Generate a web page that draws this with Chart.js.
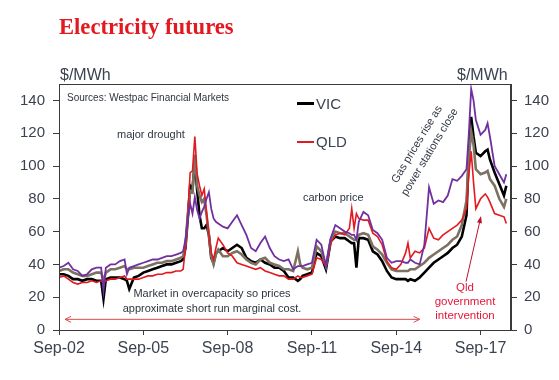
<!DOCTYPE html>
<html>
<head>
<meta charset="utf-8">
<script src="https://cdn.jsdelivr.net/npm/chart.js@4"></script>
<style>
  body { margin: 0; background: #fff; }
  #wrap { position: relative; width: 559px; height: 380px; font-family: 'Liberation Sans', Arial, sans-serif; color: #3b4350; }
  #wrap canvas { position: absolute; left: 0; top: 0; }
  .t { position: absolute; white-space: nowrap; line-height: 1; }
  .key { position: absolute; height: 0; }
</style>
</head>
<body>
<div id="wrap">
  <canvas id="futuresChart" width="559" height="380"></canvas>
  <div class="t" style="left:59px;top:14px;font:bold 22.6px 'Liberation Serif','Times New Roman',serif;color:#e3191f;">Electricity futures</div>
  <div class="t" style="left:60px;top:67px;font-size:16px;">$/MWh</div>
  <div class="t" style="left:457px;top:67px;font-size:16px;">$/MWh</div>
  <div class="t" style="left:67px;top:93px;font-size:10px;color:#2e3440;">Sources: Westpac Financial Markets</div>
  <div class="key" style="left:297px;top:102px;width:17px;border-top:3px solid #000;"></div>
  <div class="t" style="left:316px;top:96px;font-size:15px;">VIC</div>
  <div class="key" style="left:297px;top:141px;width:17px;border-top:2px solid #e3191f;"></div>
  <div class="t" style="left:316px;top:134px;font-size:15px;">QLD</div>
  <div class="t" style="left:117px;top:129px;font-size:11px;color:#2e3440;">major drought</div>
  <div class="t" style="left:303px;top:192px;font-size:11px;color:#2e3440;">carbon price</div>
  <div class="t" style="left:212px;top:288px;font-size:11px;color:#2e3440;transform:translateX(-50%);">Market in overcapacity so prices</div>
  <div class="t" style="left:212px;top:302.5px;font-size:11px;color:#2e3440;transform:translateX(-50%);">approximate short run marginal cost.</div>
  <div class="t" style="left:423px;top:148px;font-size:11px;color:#2e3440;line-height:15px;text-align:center;transform:translate(-50%,-50%) rotate(-59deg);">Gas prices rise as<br>power stations close</div>
  <div class="t" style="left:465px;top:280px;font-size:11.5px;color:#e3173a;line-height:14px;text-align:center;transform:translateX(-50%);">Qld<br>government<br>intervention</div>
</div>
<script>
// months since Sep-02
const months = [
  0, 2, 4, 6, 8, 10, 12, 14, 16, 18,
  19, 20,
  22, 24, 26, 28,
  29, 30,
  32, 34, 36, 38, 40, 42, 44, 46, 48, 50, 52,
  53, 54, 55, 56, 57, 58, 59, 60, 61, 62, 63, 64, 65, 66, 67, 68,
  70, 72, 74, 76, 78, 80, 82, 84, 86, 88, 90, 92, 94, 96, 98, 100,
  102, 103, 104,
  106, 108, 110, 112, 114, 116, 118, 120, 122, 124,
  125, 126, 127, 128,
  130, 132, 134, 136, 138, 140, 142, 144, 146, 148,
  149, 150,
  152, 154, 156, 158, 160, 162, 164, 166, 168, 170, 172, 174,
  175, 176, 177, 178,
  180, 182, 183, 184, 186, 188, 190, 191
];

const saPrices = [
  38, 39, 41, 37, 36, 33, 34, 37, 38, 38,
  24, 38,
  40, 40, 42, 43,
  34, 38,
  39, 40, 41, 42, 43, 43, 44, 45, 45, 46, 47,
  48, 55, 68, 77, 71, 81, 73, 68, 72, 75, 80, 84, 74, 68, 66, 65,
  63, 62, 66, 70, 64, 58, 50, 48, 53, 57, 50, 45, 43, 42, 43, 37,
  39, 39, 39,
  40, 41, 55, 52, 39, 56, 64, 62, 60, 59,
  58, 58, 55, 66,
  72, 70, 61, 59, 55, 44, 41, 42, 42, 41,
  41, 43,
  41, 40, 52, 87, 77, 79, 78, 82, 92, 91, 94, 98,
  120, 147, 140, 128,
  119, 122, 126, 118, 100, 95, 90, 95
];

const nswPrices = [
  36, 37, 37, 35, 34, 33, 33, 34, 35, 35,
  30, 35,
  37, 37, 38, 39,
  37, 37,
  38, 38, 38, 39, 40, 41, 41, 42, 42, 43, 44,
  45, 52, 70, 85, 84, 107, 88, 82, 78, 80, 70, 58, 45, 40, 46, 49,
  45, 45, 47, 48, 46, 43, 41, 40, 43, 44, 41, 40, 39, 37, 37, 36,
  48, 40, 38,
  37, 38, 51, 48, 39, 55, 60, 59, 59, 57,
  56, 55, 55, 58,
  59, 58, 51, 49, 46, 41, 37, 36, 36, 36,
  36, 37,
  37, 39, 41, 44, 46, 48, 50, 52, 55, 57, 64, 79,
  105, 121, 113, 98,
  95, 96, 97, 92, 88, 80, 75, 80
];

const vicPrices = [
  34, 34, 33, 31, 31, 30, 31, 31, 30, 30,
  19, 31,
  32, 32, 32, 31,
  30, 25,
  32, 33, 35, 36, 37, 38, 39, 40, 40, 41, 42,
  43, 50, 68, 88, 86, 103, 85, 70, 62, 62, 64, 58, 44, 41, 47, 48,
  50, 48, 50, 52, 50, 44, 42, 41, 43, 41, 40, 38, 38, 36, 32, 32,
  30, 31, 33,
  34, 35, 47, 45, 37, 54, 57, 56, 56, 54,
  53, 53, 38, 56,
  56, 55, 48, 46, 42, 36, 32, 31, 31, 31,
  30, 31,
  30, 32, 35, 38, 41, 43, 45, 47, 50, 52, 57, 70,
  108, 130, 118, 108,
  106, 109, 110, 104, 96, 89, 82, 88
];

const qldPrices = [
  32, 33, 31, 29, 28, 29, 29, 30, 29, 30,
  29, 30,
  31, 31, 32, 33,
  31, 31,
  31, 31, 32, 33, 33, 34, 34, 35, 35, 36, 36,
  37, 50, 70, 96, 97, 118, 95, 88, 82, 86, 72, 58, 47, 43, 50, 56,
  52, 47, 45, 41, 40, 39, 38, 37, 38, 36, 35, 34, 33, 33, 31, 31,
  33, 32, 32,
  33, 34, 44, 43, 39, 53, 58, 59, 58, 62,
  74, 62, 71, 68,
  67, 67, 59, 57, 52, 42, 38, 37, 40, 47,
  53, 44,
  48, 47, 50, 62, 56, 55, 58, 60, 62, 64, 67, 74,
  95, 109, 90, 74,
  80, 83, 81, 78, 71, 70, 69, 65
];

const xTickStep = 36;
const yTickStep = 20;

function pts(vals) {
  return months.map((m, i) => ({ x: m, y: vals[i] }));
}

function sepLabel(v) {
  const yr = (2 + v / 12) % 100;
  return 'Sep-' + String(yr).padStart(2, '0');
}

const tickCol = '#3b4350';
const axisCol = '#3a3a3a';

// arrows drawn in data space
const notes = {
  id: 'notes',
  afterDatasetsDraw(chart) {
    const { ctx, scales: { x, y } } = chart;
    ctx.save();
    // overcapacity span
    const y0 = y.getPixelForValue(6.5);
    const xa = x.getPixelForValue(2.6);
    const xb = x.getPixelForValue(154);
    ctx.strokeStyle = '#e04a4a';
    ctx.lineWidth = 1;
    ctx.beginPath();
    ctx.moveTo(xa, y0); ctx.lineTo(xb, y0);
    ctx.moveTo(xa + 6, y0 - 3); ctx.lineTo(xa, y0); ctx.lineTo(xa + 6, y0 + 3);
    ctx.moveTo(xb - 6, y0 - 3); ctx.lineTo(xb, y0); ctx.lineTo(xb - 6, y0 + 3);
    ctx.stroke();
    // Qld intervention arrow
    const tx = x.getPixelForValue(173.8), ty = y.getPixelForValue(29.5);
    const hx = x.getPixelForValue(180.2), hy = y.getPixelForValue(69.5);
    const ang = Math.atan2(hy - ty, hx - tx);
    ctx.strokeStyle = '#c0102a';
    ctx.fillStyle = '#c0102a';
    ctx.beginPath();
    ctx.moveTo(tx, ty); ctx.lineTo(hx - 5 * Math.cos(ang), hy - 5 * Math.sin(ang));
    ctx.stroke();
    ctx.beginPath();
    ctx.moveTo(hx, hy);
    ctx.lineTo(hx - 7 * Math.cos(ang) + 2.5 * Math.sin(ang), hy - 7 * Math.sin(ang) - 2.5 * Math.cos(ang));
    ctx.lineTo(hx - 7 * Math.cos(ang) - 2.5 * Math.sin(ang), hy - 7 * Math.sin(ang) + 2.5 * Math.cos(ang));
    ctx.closePath();
    ctx.fill();
    ctx.restore();
  },
  afterDraw(chart) {
    const { ctx, chartArea: a } = chart;
    ctx.save();
    ctx.strokeStyle = axisCol;
    ctx.lineWidth = 1;
    ctx.strokeRect(a.left + 0.5, a.top + 0.5, a.right - a.left - 1, a.bottom - a.top);
    ctx.restore();
  }
};

const ctx = document.getElementById('futuresChart').getContext('2d');
new Chart(ctx, {
  type: 'line',
  data: {
    datasets: [
      { label: 'SA', data: pts(saPrices), borderColor: '#7030a0', borderWidth: 1.8, order: 1 },
      { label: 'QLD', data: pts(qldPrices), borderColor: '#e3191f', borderWidth: 1.6, order: 2 },
      { label: 'NSW', data: pts(nswPrices), borderColor: '#7d7262', borderWidth: 2.6, order: 3 },
      { label: 'VIC', data: pts(vicPrices), borderColor: '#000000', borderWidth: 2.6, order: 4 }
    ]
  },
  options: {
    responsive: false,
    animation: false,
    layout: { padding: { top: 84, left: 0, right: 0, bottom: 0 } },
    elements: { point: { radius: 0 }, line: { tension: 0 } },
    plugins: { legend: { display: false }, title: { display: false }, tooltip: { enabled: false } },
    scales: {
      x: {
        type: 'linear', min: 0, max: 193,
        afterFit: s => { s.height = 50; },
        border: { display: true, color: axisCol },
        grid: { drawOnChartArea: false, drawTicks: true, tickLength: 5, color: axisCol },
        ticks: {
          stepSize: xTickStep, includeBounds: false, autoSkip: false, maxRotation: 0,
          padding: 4, color: tickCol, font: { size: 16, family: "'Liberation Sans', Arial" },
          callback: sepLabel
        }
      },
      y: {
        position: 'left', min: 0, max: 150,
        afterFit: s => { s.width = 59; },
        border: { display: true, color: axisCol },
        grid: { drawOnChartArea: false, drawTicks: true, tickLength: 6, color: axisCol },
        ticks: { stepSize: yTickStep, includeBounds: false, padding: 8, color: tickCol, font: { size: 15, family: "'Liberation Sans', Arial" } }
      },
      y2: {
        position: 'right', min: 0, max: 150, display: true,
        afterFit: s => { s.width = 48; },
        border: { display: true, color: axisCol },
        grid: { drawOnChartArea: false, drawTicks: true, tickLength: 6, color: axisCol },
        ticks: { stepSize: yTickStep, includeBounds: false, padding: 7, color: tickCol, font: { size: 15, family: "'Liberation Sans', Arial" } }
      }
    }
  },
  plugins: [notes]
});
</script>
</body>
</html>
